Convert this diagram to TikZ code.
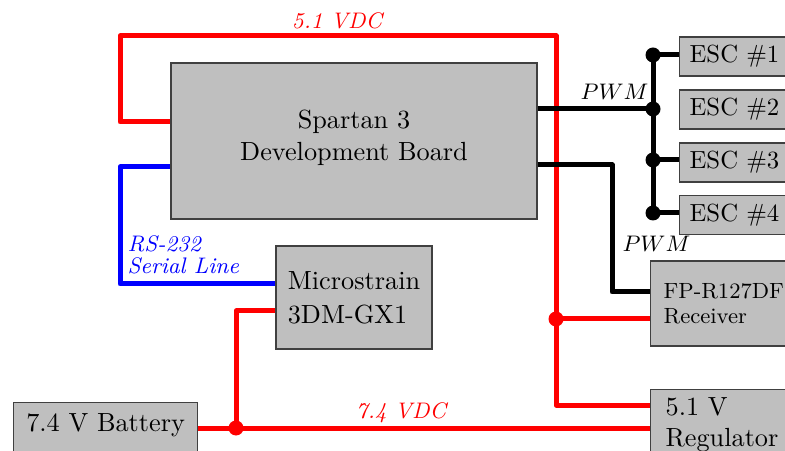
\documentclass[tikz,border=0pt]{standalone}
\usepackage{fontspec}
\tikzset{
  box/.style={draw=black!75, line width=0.5pt, fill=black!25, inner sep=0pt},
  escbox/.style={box, anchor=west, inner xsep=4pt, minimum height=15.6pt, font=\fontsize{9.9}{11}\selectfont},
  wire/.style={line width=2pt, line join=round},
  pw/.style={wire, red},
  sig/.style={wire, black},
  ser/.style={wire, blue},
  jdot/.style={circle, fill, inner sep=0pt, minimum size=6pt},
  lab/.style={font=\fontsize{9}{8.8}\selectfont\itshape, inner sep=0pt},
}
\begin{document}
\begin{tikzpicture}[x=0.4pt,y=-0.4pt]
\useasboundingbox (0,0) rectangle (785,451);
\clip (0,0) rectangle (785,451);

% boxes
\node[box, minimum width=146.4pt, minimum height=62.4pt, align=center, text depth=4.4pt,
      font=\fontsize{10.5}{12.8}\selectfont] (sp) at (354,141) {Spartan 3\\Development Board};
\node[box, minimum width=62.4pt, minimum height=41.2pt, align=left,
      font=\fontsize{10.5}{13.6}\selectfont] (ms) at (354,297.5) {Microstrain\\3DM-GX1};
\node[box, anchor=north west, minimum width=73.6pt, inner ysep=4.4pt, text depth=6pt,
      font=\fontsize{10.5}{12.6}\selectfont] (bat) at (13,402) {7.4 V Battery};
\node[box, anchor=north west, align=left, inner xsep=6pt, inner ysep=3.2pt,
      font=\fontsize{10.5}{12.4}\selectfont] (reg) at (650,389) {5.1 V\\Regulator};
\node[box, anchor=west, align=left, inner xsep=5.2pt, minimum height=34pt,
      font=\fontsize{8.8}{10}\selectfont] (rx) at (650,303.5) {FP-R127DF\\Receiver};
\node[escbox] (esc1) at (679,56.5) {ESC \#1};
\node[escbox] (esc2) at (679,109.5) {ESC \#2};
\node[escbox] (esc3) at (679,162.5) {ESC \#3};
\node[escbox] (esc4) at (679,215) {ESC \#4};

% junction points
\coordinate (j5) at (556,319);
\coordinate (j7) at (236,428);
\coordinate (b1) at (653,55);
\coordinate (b2) at (653,109);
\coordinate (b3) at (653,160);
\coordinate (b4) at (653,213);

% power 5.1 V
\draw[pw] (sp.west |- 0,122) -| (120,36) -| (556,405) -- (reg.west |- 0,405);
\draw[pw] (j5) -- (rx.west |- j5);
\node[jdot, red] (dj5) at (j5) {};
\node[lab, red, anchor=base] (l51) at (337,29) {5.1 VDC};

% power 7.4 V
\draw[pw] (ms.west |- 0,311) -| (j7);
\draw[pw] (bat.east |- j7) -- (reg.west |- j7);
\node[jdot, red] (dj7) at (j7) {};
\node[lab, red, anchor=base] (l74) at (401,419) {7.4 VDC};

% serial
\draw[ser] (sp.west |- 0,167) -| (120,284) -- (ms.west |- 0,284);
\node[lab, blue, anchor=north west, align=left] (lrs) at (127,235) {RS-232\\Serial Line};

% PWM to ESCs
\draw[sig] (sp.east |- b2) -- (b2);
\draw[sig] (b1) -- (b4);
\draw[sig] (b1) -- (esc1.west |- b1);
\draw[sig] (b3) -- (esc3.west |- b3);
\draw[sig] (b4) -- (esc4.west |- b4);
\foreach \b in {b1,b2,b3,b4} \node[jdot, black] (d\b) at (\b) {};
\node[lab, anchor=base east] (lp1) at (649,100) {$PWM$};

% PWM to receiver
\draw[sig] (sp.east |- 0,165) -| (612,292) -- (rx.west |- 0,292);
\node[lab, anchor=base west] (lp2) at (622,252) {$PWM$};
\end{tikzpicture}
\end{document}
